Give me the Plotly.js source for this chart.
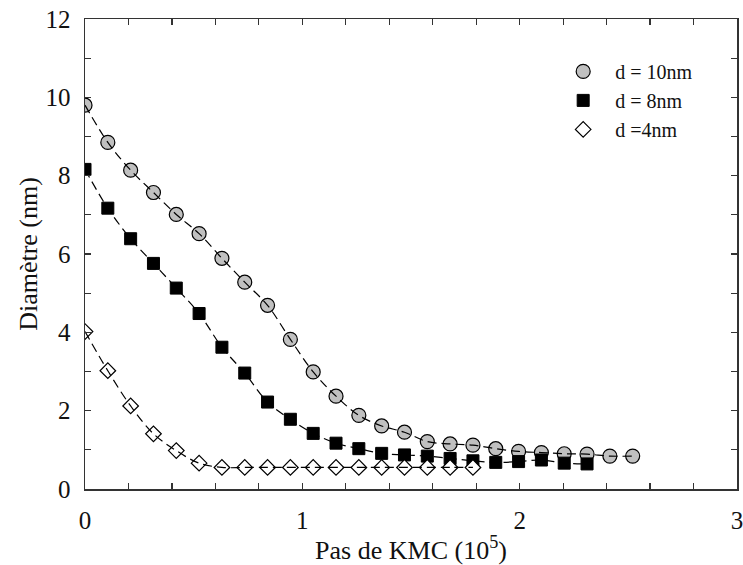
<!DOCTYPE html>
<html>
<head>
<meta charset="utf-8">
<script src="https://cdn.plot.ly/plotly-3.0.1.min.js"></script>
<style>html,body{margin:0;padding:0;background:#fff;}#chart{width:743px;height:565px;}</style>
</head>
<body>
<div id="chart"></div>
<script>
// Data
const x10 = [0, 0.105, 0.21, 0.315, 0.42, 0.525, 0.63, 0.735, 0.84, 0.945, 1.05, 1.155, 1.26, 1.365, 1.47, 1.575, 1.68, 1.785, 1.89, 1.995, 2.1, 2.205, 2.31, 2.415, 2.52];
const y10 = [9.80, 8.85, 8.14, 7.57, 7.01, 6.52, 5.89, 5.28, 4.69, 3.82, 2.99, 2.37, 1.88, 1.61, 1.45, 1.21, 1.15, 1.12, 1.03, 0.96, 0.93, 0.90, 0.89, 0.84, 0.84];
const x8 = [0, 0.105, 0.21, 0.315, 0.42, 0.525, 0.63, 0.735, 0.84, 0.945, 1.05, 1.155, 1.26, 1.365, 1.47, 1.575, 1.68, 1.785, 1.89, 1.995, 2.1, 2.205, 2.31];
const y8 = [8.16, 7.17, 6.39, 5.76, 5.13, 4.48, 3.62, 2.96, 2.22, 1.78, 1.42, 1.17, 1.03, 0.91, 0.87, 0.84, 0.78, 0.72, 0.68, 0.70, 0.74, 0.66, 0.64];
const x4 = [0, 0.105, 0.21, 0.315, 0.42, 0.525, 0.63, 0.735, 0.84, 0.945, 1.05, 1.155, 1.26, 1.365, 1.47, 1.575, 1.68, 1.785];
const y4 = [4.02, 3.02, 2.12, 1.41, 0.98, 0.66, 0.55, 0.55, 0.55, 0.55, 0.55, 0.55, 0.55, 0.55, 0.55, 0.55, 0.55, 0.55];
const names = ['d = 10nm', 'd = 8nm', 'd =4nm'];

const serif = '"Liberation Serif", "Times New Roman", Times, serif';
const lineStyle = {color: '#000', width: 1.2, dash: '9px,5px', shape: 'spline', smoothing: 1};

const traces = [
  {x: x10, y: y10, name: names[0], mode: 'markers', type: 'scatter',
   marker: {symbol: 'circle', size: 14, color: '#c0c0c0', line: {color: '#000', width: 1.2}}},
  {x: x8, y: y8, name: names[1], mode: 'markers', type: 'scatter',
   marker: {symbol: 'square', size: 12, color: '#000', line: {color: '#000', width: 1}}},
  {x: x4, y: y4, name: names[2], mode: 'markers', type: 'scatter',
   marker: {symbol: 'diamond', size: 12, color: '#fff', line: {color: '#000', width: 1.2}}},
  {x: x10, y: y10, mode: 'lines', type: 'scatter', showlegend: false, hoverinfo: 'skip', line: lineStyle},
  {x: x8, y: y8, mode: 'lines', type: 'scatter', showlegend: false, hoverinfo: 'skip', line: lineStyle},
  {x: x4, y: y4, mode: 'lines', type: 'scatter', showlegend: false, hoverinfo: 'skip', line: lineStyle}
];

function axis(extra) {
  return Object.assign({
    showgrid: false, zeroline: false, showline: true, linecolor: '#333', linewidth: 1.5,
    mirror: 'ticks', ticks: 'inside', ticklen: 6, tickwidth: 1.2, tickcolor: '#333',
    tickmode: 'linear', tick0: 0,
    tickfont: {family: serif, size: 25, color: '#111'},
    ticklabelstandoff: 8, ticklabeloverflow: 'allow'
  }, extra);
}

const layout = {
  width: 743, height: 565,
  margin: {l: 85, r: 6, t: 19, b: 76},
  font: {family: serif, color: '#111'},
  paper_bgcolor: '#fff', plot_bgcolor: '#fff',
  showlegend: true,
  legend: {x: 0.715, y: 0.93, xanchor: 'left', yanchor: 'top', bgcolor: 'rgba(0,0,0,0)',
           font: {family: serif, size: 20, color: '#111'}, itemwidth: 54, tracegroupgap: 0},
  xaxis: axis({
    range: [0, 3], dtick: 1,
    minor: {dtick: 0.2, tick0: 0, ticks: 'inside', ticklen: 6, tickwidth: 1.2, tickcolor: '#333', showgrid: false},
    title: {text: 'Pas de KMC (10<sup>5</sup>)', font: {family: serif, size: 26, color: '#111'}, standoff: 8}
  }),
  yaxis: axis({
    range: [0, 12], dtick: 2,
    minor: {dtick: 1, tick0: 0, ticks: 'inside', ticklen: 6, tickwidth: 1.2, tickcolor: '#333', showgrid: false},
    title: {text: 'Diamètre (nm)', font: {family: serif, size: 26, color: '#111'}, standoff: 0}
  })
};

Plotly.newPlot('chart', traces, layout, {displayModeBar: false, staticPlot: true});
</script>
</body>
</html>
